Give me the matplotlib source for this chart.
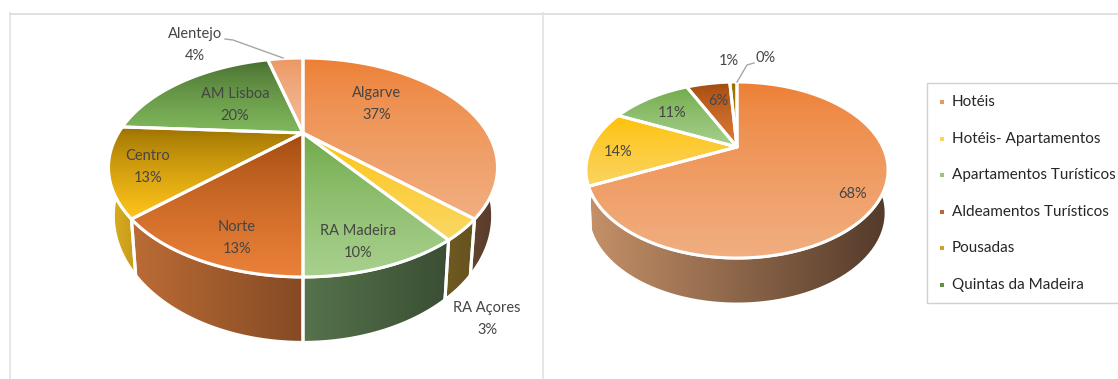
import matplotlib
matplotlib.use('Agg')
import matplotlib.pyplot as plt
import numpy as np
from matplotlib.colors import LinearSegmentedColormap
from matplotlib.patches import PathPatch, Rectangle
from matplotlib.path import Path

plt.rcParams['font.family'] = ['Lato', 'DejaVu Sans']

regions = ['Algarve', 'RA Açores', 'RA Madeira', 'Norte', 'Centro', 'AM Lisboa', 'Alentejo']
region_values = [37, 3, 10, 13, 13, 20, 4]

types = ['Hotéis', 'Hotéis- Apartamentos', 'Apartamentos Turísticos',
         'Aldeamentos Turísticos', 'Pousadas', 'Quintas da Madeira']
type_values = [68, 14, 11, 6, 1, 0]

# (top colour, bottom colour) of each upper face, (left, right) of each wall
region_top = [('#ED7D31', '#F1AE80'), ('#FFC000', '#FAD764'), ('#6BA644', '#A8D08D'),
              ('#9E480E', '#EB8139'), ('#946C00', '#FFC31A'), ('#43682B', '#80B85C'),
              ('#EC9560', '#F2BC98')]
region_wall = [('#6B4A32', '#56392A'), ('#6F5A22', '#665220'), ('#56734C', '#3A4E33'),
               ('#BC6C35', '#854A24'), ('#DDB01E', '#C59A1C'), ('#43682B', '#43682B'),
               ('#C07A4A', '#C07A4A')]
type_top = [('#ED7D31', '#F1AE80'), ('#FFC000', '#FBD35F'), ('#6BA644', '#A6CF8A'),
            ('#9E480E', '#DD7A35'), ('#946C00', '#B58A10'), ('#43682B', '#43682B')]
type_wall = [('#C49068', '#533A2A'), ('#BFA050', '#BFA050'), ('#6B8A55', '#6B8A55'),
             ('#8A4B23', '#8A4B23'), ('#8A6A10', '#8A6A10'), ('#43682B', '#43682B')]
legend_colors = ['#E8995F', '#FBD35F', '#9CC483', '#B8683A', '#C9A227', '#5E9440']

TEXT = '#454545'


def project(theta, cx, cy, a, b, k):
    # tilted circle: theta runs clockwise from the top, far side is foreshortened
    x, y = np.sin(theta), np.cos(theta)
    d = 1 + k * y
    return np.column_stack([cx + a * x / d, cy - b * y / d])


def gradient_patch(ax, verts, colors, horizontal, zorder, lw=2.2):
    path = Path(np.vstack([verts, verts[0]]), closed=True)
    patch = PathPatch(path, facecolor='none', edgecolor='white', lw=lw, zorder=zorder + 0.1,
                      joinstyle='round')
    ax.add_patch(patch)
    x0, y0 = verts.min(axis=0)
    x1, y1 = verts.max(axis=0)
    ramp = np.linspace(0, 1, 128)
    if horizontal:
        ramp = ramp[None, :]
    else:
        # upper faces lighten quickly, then level off
        ramp = ramp[:, None] ** 0.7
    cmap = LinearSegmentedColormap.from_list('g', colors)
    im = ax.imshow(ramp, cmap=cmap, vmin=0, vmax=1, aspect='auto', origin='upper',
                   extent=(x0, x1, y1, y0), interpolation='bilinear', zorder=zorder)
    im.set_clip_path(patch)


def draw_pie(ax, values, top_colors, wall_colors, upper, lower):
    edges = np.radians(np.cumsum([0] + list(values)) * 3.6)
    for i in range(len(values)):
        # only the front of the wall is ever seen
        lo = max(edges[i], np.radians(70))
        hi = min(edges[i + 1], np.radians(290))
        if hi > lo:
            t = np.linspace(lo, hi, 80)
            verts = np.vstack([project(t, *upper), project(t[::-1], *lower)])
            gradient_patch(ax, verts, wall_colors[i], True, 2)
    apex = np.array([[upper[0], upper[1]]])
    for i in range(len(values)):
        if values[i] == 0:
            continue
        t = np.linspace(edges[i], edges[i + 1], 160)
        verts = np.vstack([apex, project(t, *upper)])
        gradient_patch(ax, verts, top_colors[i], False, 3)


fig = plt.figure(figsize=(11.18, 3.79), dpi=100)
ax = fig.add_axes([0, 0, 1, 1])

draw_pie(ax, region_values, region_top, region_wall,
         (303, 133, 184.6, 98.6, 0.315), (303, 176, 180, 114, 0.315))
draw_pie(ax, type_values, type_top, type_wall,
         (737, 147, 145.8, 82, 0.2614), (737, 189, 144, 85, 0.2614))

# panel frame
ax.plot([10, 10], [379, 13], color='#E2E2E2', lw=1.2, zorder=1)
ax.plot([10, 1118], [13.5, 13.5], color='#DCDCDC', lw=1.2, zorder=1)
ax.plot([543, 543], [379, 13], color='#E2E2E2', lw=1.2, zorder=1)

region_label_xy = [(377, 104), (487, 319), (358, 242), (237, 238), (148, 167), (235, 105), (195, 45)]
for name, v, (x, y) in zip(regions, region_values, region_label_xy):
    ax.text(x, y, f'{name}\n{v}%', ha='center', va='center', fontsize=10.5, color=TEXT,
            linespacing=1.7, zorder=5)

type_label_xy = [(853, 194), (618, 152), (672, 113), (718, 101), (729, 61), (766, 58)]
for v, (x, y) in zip(type_values, type_label_xy):
    ax.text(x, y, f'{v}%', ha='center', va='center', fontsize=10.5, color=TEXT, zorder=5)

# leader lines
ax.plot([225, 233, 283], [39, 40, 58], color='#A6A6A6', lw=1, zorder=4)
ax.plot([754, 747, 737], [63, 65, 82], color='#A6A6A6', lw=1, zorder=4)

# legend
ax.add_patch(Rectangle((927, 83), 200, 220, facecolor='white', edgecolor='#D0D0D0', lw=1, zorder=1))
legend_y = [102, 139, 175, 212, 248, 285]
for name, c, y in zip(types, legend_colors, legend_y):
    ax.scatter([942], [y], marker='s', s=10, color=c, linewidths=0, zorder=4)
    ax.text(952, y, name, ha='left', va='center', fontsize=11, color='#262626', zorder=5)

ax.set_xlim(0, 1118)
ax.set_ylim(379, 0)
ax.axis('off')
fig.savefig('out.png', dpi=100, facecolor='white')
